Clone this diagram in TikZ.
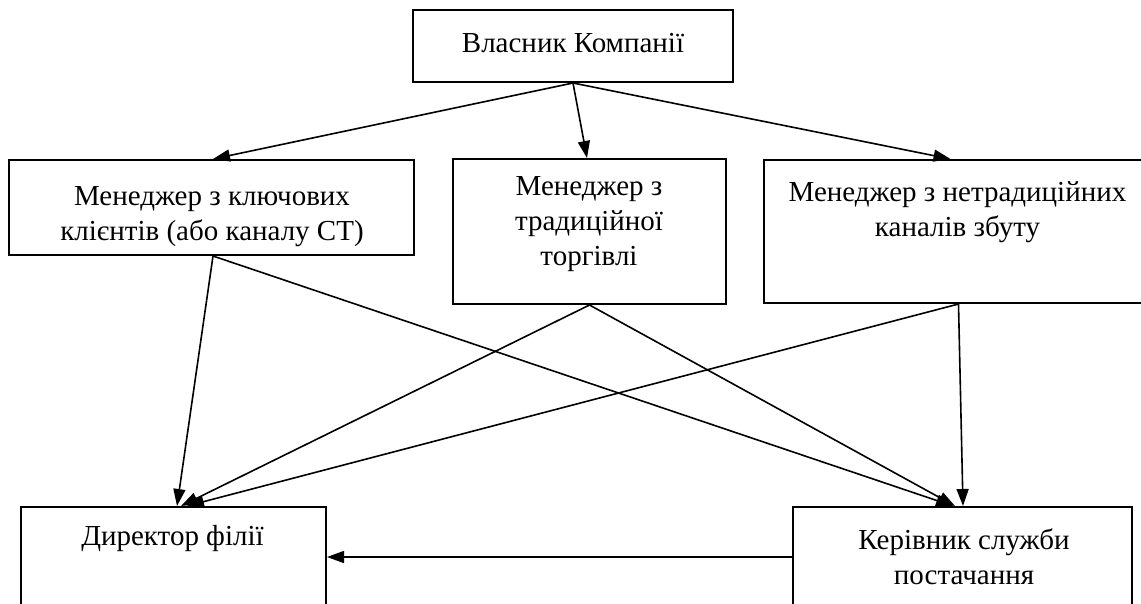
\documentclass[tikz,border=0pt]{standalone}
\usepackage{fontspec}
\setmainfont{Liberation Serif}
\usetikzlibrary{arrows.meta,fit}
\begin{document}
\begin{tikzpicture}[x=1pt,y=-1pt,
  box/.style={draw, line width=2pt, inner sep=0pt},
  txt/.style={inner sep=0pt, align=center, font=\fontsize{29}{35}\selectfont},
  conn/.style={line width=1.6pt, -{Triangle[length=17pt,width=12pt]}}]
\useasboundingbox (0,0) rectangle (1141,603);
% boxes
\node[box, fit={(413,10)(733,82)}] (own) {};
\node[box, fit={(9,160)(414,255)}] (km) {};
\node[box, fit={(453,159)(726,304)}] (tr) {};
\node[box, fit={(764,160)(1146,303)}] (nt) {};
\node[box, fit={(21,507)(326,606)}] (dir) {};
\node[box, fit={(793,507)(1132,606)}] (ker) {};
% texts
\node[txt] (ownt) at (573,43) {Власник Компанії};
\node[txt] (kmt) at (212,216.5) {Менеджер з ключових\\клієнтів (або каналу СТ)};
\node[txt] (trt) at (589,224) {Менеджер з\\традиційної\\торгівлі};
\node[txt] (ntt) at (957.5,212) {Менеджер з нетрадиційних\\каналів збуту};
\node[txt] (dirt) at (172.5,539) {Директор філії};
\node[txt] (kert) at (964,556.5) {Керівник служби\\постачання};
% connectors
\draw[conn] (own.south) -- ([xshift=1.5pt]km.north);
\draw[conn] (own.south) -- ([xshift=-2.5pt]tr.north);
\draw[conn] (own.south) -- ([xshift=-4.5pt]nt.north);
\draw[conn] ([xshift=1.5pt]km.south) -- ([xshift=3.5pt]dir.north);
\draw[conn] ([xshift=1.5pt]km.south) -- ([xshift=-9.5pt]ker.north);
\draw[conn] (tr.south) -- ([xshift=7.5pt]dir.north);
\draw[conn] (tr.south) -- ([xshift=-7.5pt]ker.north);
\draw[conn] ([xshift=3.5pt]nt.south) -- ([xshift=13.5pt]dir.north);
\draw[conn] ([xshift=3.5pt]nt.south) -- ([xshift=0.5pt]ker.north);
\draw[conn] ([yshift=-0.5pt]ker.west) -- ([yshift=-0.5pt]dir.east);
\end{tikzpicture}
\end{document}
